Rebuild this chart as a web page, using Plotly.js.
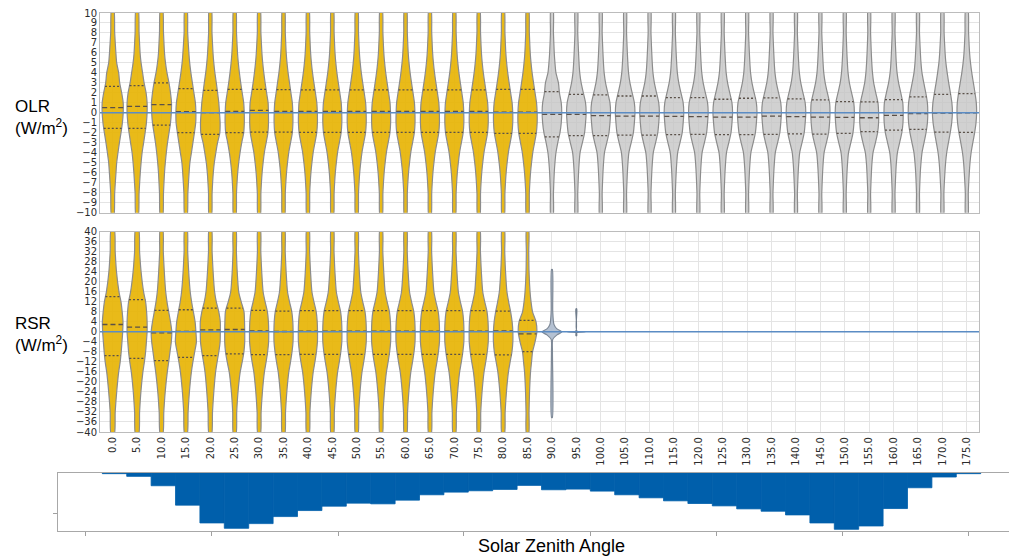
<!DOCTYPE html>
<html><head><meta charset="utf-8">
<script src="https://cdn.plot.ly/plotly-3.0.1.min.js"></script>
<style>html,body{margin:0;padding:0;background:#fff;}#chart{width:1009px;height:558px;}</style>
</head><body><div id="chart"></div>
<script>
// ---------------- data ----------------
const ANGLES = [0,5,10,15,20,25,30,35,40,45,50,55,60,65,70,75,80,85,90,95,100,105,110,115,120,125,130,135,140,145,150,155,160,165,170,175];
const ANGLE_LABELS = ["0.0","5.0","10.0","15.0","20.0","25.0","30.0","35.0","40.0","45.0","50.0","55.0","60.0","65.0","70.0","75.0","80.0","85.0","90.0","95.0","100.0","105.0","110.0","115.0","120.0","125.0","130.0","135.0","140.0","145.0","150.0","155.0","160.0","165.0","170.0","175.0"];
const DAY_LIMIT = 85; // violins up to this angle are drawn in yellow

// OLR violins: half-width (density) at each level
const OLR_LEVELS = [-10.5,-8,-6,-5,-4,-3,-2,-1,0,1,2,3,4,5,6,8,10.5];
const OLR_WIDTHS = [
 [1,2,3.3,4,5.3,6.7,8.3,9.7,10.5,10.5,9,7,6,4,3.2,2,1],
 [1,2,3.2,4,5,6.5,8,9.3,10,10,9,7,5.5,4,3,2,1],
 [1,2,3,3.8,4.8,6,7.5,9,9.8,10,9,7.5,5.5,4,3,2,1],
 [1,2,3.2,4,5.5,7,8.5,9.8,10,9.5,8,6.5,5,3.8,3,1.8,1],
 [1,1.8,3,4,5.5,7.2,9.5,9.8,9.2,8.5,7.3,6,4.6,3.5,2.7,1.7,1],
 [1,1.8,3,4,5.3,7,9,9.6,9.5,9,7.5,6,4.7,3.6,2.8,1.8,1],
 [1,1.8,3,4,5.2,7,8.8,9.4,9.3,9,7.5,6,4.7,3.6,2.8,1.8,1],
 [1,1.8,3,4,5.2,7,8.8,9.4,9.3,8.8,7.4,6,4.6,3.5,2.7,1.8,1],
 [1,1.8,3,4,5.2,7,8.8,9.5,9.4,8.9,7.5,6,4.6,3.5,2.7,1.8,1],
 [1,1.8,3,4,5.2,7,8.8,9.5,9.4,8.9,7.5,6,4.6,3.5,2.7,1.8,1],
 [1,1.8,3,4,5.2,7,8.8,9.5,9.4,8.9,7.5,6,4.6,3.5,2.7,1.8,1],
 [1,1.8,3,4,5.2,7,8.8,9.5,9.4,8.9,7.5,6,4.6,3.5,2.7,1.8,1],
 [1,1.8,3,4,5.2,7,8.8,9.5,9.4,8.9,7.5,6,4.6,3.5,2.7,1.8,1],
 [1,1.8,3,4,5.2,7,8.8,9.5,9.4,8.9,7.5,6,4.6,3.5,2.7,1.8,1],
 [1,1.8,3,4,5.2,7,8.8,9.5,9.4,8.9,7.5,6,4.6,3.5,2.7,1.8,1],
 [1,1.8,3,4,5.2,7,8.8,9.5,9.4,8.9,7.5,6,4.6,3.5,2.7,1.8,1],
 [1,1.8,3,4,5.2,7,8.8,9.6,9.6,9,7.5,6,4.6,3.5,2.7,1.8,1],
 [1,1.8,3,4,5.2,7,8.8,9.6,9.6,9,7.5,6,4.6,3.5,2.7,1.8,1],
 [1,1.5,2.3,3,4,5.8,8,9.3,9.8,9.3,7.5,6.5,4,3,2.3,1.5,1],
 [1,1.4,2.2,2.8,3.7,6,8.2,9.2,9.8,9.2,7,4.8,3.4,2.7,2.2,1.4,1],
 [1,1.4,2.2,2.8,3.7,6,8.2,9.2,9.8,9.2,7,4.8,3.4,2.7,2.2,1.4,1],
 [1,1.4,2.2,2.8,3.7,6,8.2,9.2,9.8,9.2,7,4.8,3.4,2.7,2.2,1.4,1],
 [1,1.4,2.2,2.8,3.7,6,8.2,9.2,9.8,9.2,7,4.8,3.4,2.7,2.2,1.4,1],
 [1,1.4,2.2,2.8,3.7,6,8.2,9.2,9.8,9.2,7,4.8,3.4,2.7,2.2,1.4,1],
 [1,1.4,2.2,2.8,3.7,6,8.2,9.2,9.8,9.2,7,4.8,3.4,2.7,2.2,1.4,1],
 [1,1.4,2.2,2.8,3.7,6,8.2,9.2,9.8,9.2,7,4.8,3.4,2.7,2.2,1.4,1],
 [1,1.4,2.2,2.8,3.7,6,8.2,9.2,9.8,9.2,7,4.8,3.4,2.7,2.2,1.4,1],
 [1,1.4,2.2,2.8,3.7,6,8.2,9.2,9.8,9.2,7,4.8,3.4,2.7,2.2,1.4,1],
 [1,1.4,2.2,2.8,3.7,6,8.2,9.2,9.8,9.2,7,4.8,3.4,2.7,2.2,1.4,1],
 [1,1.4,2.2,2.8,3.7,6,8.2,9.2,9.6,9.2,7,4.8,3.4,2.7,2.2,1.4,1],
 [1,1.4,2.2,2.8,3.7,6,8.2,9.2,9.6,9,6.8,4.6,3.3,2.6,2.1,1.4,1],
 [1,1.4,2.2,2.8,3.8,6.2,8.4,9.4,9.4,8.8,6.6,4.5,3.3,2.6,2.1,1.4,1],
 [1,1.4,2.2,2.8,3.8,6,8.2,9.4,9.6,9.2,7.2,5,3.5,2.7,2.2,1.4,1],
 [1,1.5,2.3,3,4,6,8,9.4,9.8,9.4,7.8,5.8,4,3,2.4,1.5,1],
 [1,1.5,2.5,3.2,4.3,6,7.8,9.3,10,9.5,8,6.3,4.8,3.5,2.7,1.7,1],
 [1,1.5,2.5,3.2,4.3,6,7.8,9.2,9.8,9.5,8.2,6.6,5,3.7,2.8,1.8,1]
];
const OLR_Q1  = [-1.56,-1.56,-1.22,-1.99,-2.16,-1.99,-1.93,-1.93,-1.95,-1.95,-1.95,-1.95,-1.95,-1.95,-1.95,-1.95,-2.06,-2.06,-2.4,-2.29,-2.29,-2.23,-2.23,-2.19,-2.16,-2.19,-2.19,-2.15,-2.1,-2.13,-2.06,-1.89,-1.73,-1.66,-1.93,-1.96];
const OLR_MED = [0.52,0.65,0.82,0.12,0.02,0.15,0.25,0.15,0.15,0.15,0.15,0.15,0.15,0.15,0.15,0.15,0.08,0.08,-0.15,-0.15,-0.28,-0.32,-0.32,-0.35,-0.38,-0.42,-0.42,-0.32,-0.38,-0.42,-0.45,-0.49,-0.25,-0.08,-0.02,0];
const OLR_Q3  = [2.66,2.73,3.0,2.43,2.26,2.36,2.36,2.33,2.3,2.3,2.3,2.3,2.3,2.3,2.3,2.3,2.36,2.36,2.13,1.86,1.8,1.69,1.69,1.52,1.52,1.36,1.46,1.5,1.39,1.29,1.12,1.09,1.32,1.59,1.86,1.93];

// RSR violins (0.0 .. 85.0)
const RSR_LEVELS = [-41,-32,-24,-16,-12,-8,-4,0,4,8,12,16,24,32,41];
const RSR_WIDTHS = [
 [1.5,2.5,4,6,7.5,8.5,9.3,10,10.3,9.5,8.3,6.3,3.8,2.5,1.5],
 [1.5,2.5,3.8,5.8,7.3,8.5,9.3,10,10,9.5,8.5,6.5,4,2.5,1.5],
 [1.2,2.3,3.7,5.8,7.2,8.5,9.8,10.3,9,7.2,5.5,4.2,2.8,1.8,1.2],
 [1.2,2.2,3.5,5.5,7,8.8,10.5,10,9.2,7.5,5.7,4.3,2.8,1.8,1.2],
 [1.2,2.2,3.5,5.3,6.8,8.5,9.8,10,10,8.5,6,4.3,2.8,1.8,1.2],
 [1.2,2,3.3,5.5,7.5,9.2,10,10,9.8,9.3,6.5,4,2.5,1.7,1.2],
 [1.2,2,3.3,5.3,7,8.5,9.5,9.6,9.3,8.3,6,4,2.6,1.7,1.2],
 [1.2,2,3.3,5.3,7,8.5,9.5,9.6,9.3,8.3,6,4,2.6,1.7,1.2],
 [1.2,2,3.3,5.3,7,8.5,9.5,9.6,9.3,8.3,6,4,2.6,1.7,1.2],
 [1.2,2,3.3,5.3,7,8.5,9.5,9.6,9.3,8.3,6,4,2.6,1.7,1.2],
 [1.2,2,3.3,5.3,7,8.5,9.5,9.6,9.3,8.3,6,4,2.6,1.7,1.2],
 [1.2,2,3.3,5.3,7,8.5,9.5,9.6,9.3,8.3,6,4,2.6,1.7,1.2],
 [1.2,2,3.3,5.3,7,8.5,9.5,9.6,9.3,8.3,6,4,2.6,1.7,1.2],
 [1.2,2,3.3,5.3,7,8.5,9.5,9.6,9.3,8.3,6,4,2.6,1.7,1.2],
 [1.2,2,3.3,5.3,7,8.5,9.5,9.6,9.3,8.3,6,4,2.6,1.7,1.2],
 [1.2,2,3.3,5.3,7,8.5,9.5,9.6,9.3,8.3,6,4,2.6,1.7,1.2],
 [1.2,2,3.3,5.3,7,8.8,9.7,9.7,9,7.5,5.5,3.8,2.4,1.6,1.2],
 [1,1.5,2,3,4,5,7.5,9.3,8.5,5,3.5,2.5,1.5,1.2,1]
];
const RSR_Q1  = [-9.5,-10.57,-11.5,-10.2,-9.5,-8.8,-9.1,-9.1,-9,-9,-9,-9,-9,-9,-9,-9,-9.2,-7.9];
const RSR_MED = [2.94,1.87,-0.4,0.2,0.8,0.94,0.4,0.13,0.3,0.3,0.3,0.3,0.3,0.3,0.3,0.3,0.4,-0.8];
const RSR_Q3  = [14.05,12.84,8.56,8.83,9.5,9.5,8.56,8.3,8.5,8.5,8.5,8.5,8.5,8.5,8.5,8.5,8.3,4.55];
// RSR at 90.0 and 95.0 (almost degenerate)
const RSR90_LEVELS = [-34.2,-8,-3,-1.2,0,1.2,3,8,24.9];
const RSR90_WIDTHS = [0.4,0.5,0.8,5,10,5,2,0.8,0.4];
const RSR95_LEVELS = [-1.5,-0.3,0,0.3,9.2];
const RSR95_WIDTHS = [0.4,0.5,9,0.5,0.4];

// Lower histogram (depth of each column, hanging from top)
const HIST = [2,10,38,96,149,165,151,130,112,99,90,92,81,65,57,53,49,37,50,48,54,65,74,83,91,98,107,114,125,149,168,158,106,44,12,2];
const HIST_TICKS = [-6,19.9,45.8,71.6,97.5,123.3,149.2,175.0];
const REF_LINE = 0;

const OLR_TICKS = [10,9,8,7,6,5,4,3,2,1,0,-1,-2,-3,-4,-5,-6,-7,-8,-9,-10];
const RSR_TICKS = [40,36,32,28,24,20,16,12,8,4,0,-4,-8,-12,-16,-20,-24,-28,-32,-36,-40];

// ---------------- drawing ----------------
const W = 0.205; // density -> x units
const YELLOW = 'rgba(231,178,0,0.9)';
const GREY = 'rgba(196,196,196,0.78)';
const OUTLINE = '#8c8c8c';
const INNER = '#5a5048';
const BAR = '#005fab';

function interp(levels, widths, y){
  for (let i=0;i<levels.length-1;i++){
    if (y>=levels[i] && y<=levels[i+1]){
      const t=(y-levels[i])/(levels[i+1]-levels[i]);
      return widths[i]+t*(widths[i+1]-widths[i]);
    }
  }
  return 0;
}
function violin(cx, levels, widths, fill, line, xa, ya){
  const xs=[], ys=[];
  for (let i=0;i<levels.length;i++){ xs.push(cx+widths[i]*W); ys.push(levels[i]); }
  for (let i=levels.length-1;i>=0;i--){ xs.push(cx-widths[i]*W); ys.push(levels[i]); }
  xs.push(xs[0]); ys.push(ys[0]);
  return {type:'scatter', mode:'lines', x:xs, y:ys, fill:'toself', fillcolor:fill,
    line:{color:line, width:1.2, shape:'spline', smoothing:0.7}, xaxis:xa, yaxis:ya,
    hoverinfo:'skip', showlegend:false};
}
function innerLines(cxs, levelsArr, widthsArr, qs, dash, xa, ya){
  const xs=[], ys=[];
  cxs.forEach((cx,i)=>{
    const q=qs[i]; if (q===null || q===undefined) return;
    const w=interp(levelsArr, widthsArr[i], q)*W;
    xs.push(cx-w, cx+w, null); ys.push(q, q, null);
  });
  return {type:'scatter', mode:'lines', x:xs, y:ys, line:{color:INNER, width:1.3, dash:dash},
    xaxis:xa, yaxis:ya, hoverinfo:'skip', showlegend:false};
}

const traces=[];
ANGLES.forEach((a,i)=>{
  const day = a<=DAY_LIMIT;
  traces.push(violin(a, OLR_LEVELS, OLR_WIDTHS[i], day?YELLOW:GREY, OUTLINE, 'x', 'y'));
});
traces.push(innerLines(ANGLES, OLR_LEVELS, OLR_WIDTHS, OLR_Q1, '2px,2px', 'x','y'));
traces.push(innerLines(ANGLES, OLR_LEVELS, OLR_WIDTHS, OLR_Q3, '2px,2px', 'x','y'));
traces.push(innerLines(ANGLES, OLR_LEVELS, OLR_WIDTHS, OLR_MED, '5px,3px', 'x','y'));

const rsrAngles = ANGLES.slice(0, RSR_WIDTHS.length);
rsrAngles.forEach((a,i)=>{
  traces.push(violin(a, RSR_LEVELS, RSR_WIDTHS[i], YELLOW, OUTLINE, 'x2', 'y2'));
});
traces.push(violin(ANGLES[18], RSR90_LEVELS, RSR90_WIDTHS, 'rgba(176,190,208,0.95)', '#7d8896', 'x2', 'y2'));
traces.push(violin(ANGLES[19], RSR95_LEVELS, RSR95_WIDTHS, 'rgba(120,140,165,0.95)', '#6f7b8a', 'x2', 'y2'));
traces.push(innerLines(rsrAngles, RSR_LEVELS, RSR_WIDTHS, RSR_Q1, '2px,2px', 'x2','y2'));
traces.push(innerLines(rsrAngles, RSR_LEVELS, RSR_WIDTHS, RSR_Q3, '2px,2px', 'x2','y2'));
traces.push(innerLines(rsrAngles, RSR_LEVELS, RSR_WIDTHS, RSR_MED, '5px,3px', 'x2','y2'));

traces.push({type:'bar', x:ANGLES, y:HIST, width:5, marker:{color:BAR, line:{width:0.8, color:BAR}},
  xaxis:'x3', yaxis:'y3', hoverinfo:'skip', showlegend:false});

const H=558, Wd=1009;
const px = v=>v/Wd, py = v=>1-v/H;
const tickFont = {family:'DejaVu Sans, sans-serif', size:10, color:'#2b2b2b'};
const grid = '#e4e4e4', border='#bcbcbc';

const layout = {
  width:Wd, height:H, margin:{l:0,r:0,t:0,b:0}, paper_bgcolor:'#fff', plot_bgcolor:'#fff',
  showlegend:false, bargap:0,
  xaxis:{domain:[px(100),px(979)], range:[-2.6,177.5], anchor:'y', tickvals:ANGLES, showticklabels:false,
    ticks:'', showgrid:true, gridcolor:grid, showline:true, mirror:true, linecolor:border, zeroline:false},
  yaxis:{domain:[py(212.7),py(13)], range:[-10,10], anchor:'x', tickvals:OLR_TICKS, ticks:'', tickfont:tickFont,
    showgrid:true, gridcolor:grid, showline:true, mirror:true, linecolor:border, zeroline:false},
  xaxis2:{domain:[px(100),px(979)], range:[-2.6,177.5], anchor:'y2', tickvals:ANGLES, ticktext:ANGLE_LABELS,
    tickangle:-90, tickfont:{family:'DejaVu Sans, sans-serif', size:10, color:'#2b2b2b'}, ticks:'',
    showgrid:true, gridcolor:grid, showline:true, mirror:true, linecolor:border, zeroline:false},
  yaxis2:{domain:[py(432),py(231.7)], range:[-40,40], anchor:'x2', tickvals:RSR_TICKS, ticks:'', tickfont:tickFont,
    showgrid:true, gridcolor:grid, showline:true, mirror:true, linecolor:border, zeroline:false},
  xaxis3:{domain:[px(58),1], range:[-11.58,183.3], anchor:'y3', tickvals:HIST_TICKS, showticklabels:false,
    ticks:'outside', ticklen:4, tickcolor:'#a0a0a0', showgrid:false, showline:true, mirror:true, linecolor:'#a8a8a8', zeroline:false},
  yaxis3:{domain:[py(531),py(473)], range:[173,0], anchor:'x3', tickvals:[120], showticklabels:false, ticks:'outside', ticklen:4,
    tickcolor:'#a0a0a0', showgrid:false, showline:true, mirror:false, linecolor:'#a8a8a8', zeroline:false},
  shapes:[
    {type:'line', xref:'x domain', x0:0, x1:1, yref:'y', y0:REF_LINE, y1:REF_LINE, line:{color:'#5b8cc4', width:1.5}, layer:'above'},
    {type:'line', xref:'x2 domain', x0:0, x1:1, yref:'y2', y0:REF_LINE, y1:REF_LINE, line:{color:'#5b8cc4', width:1.5}, layer:'above'}
  ],
  annotations:[
    {xref:'paper', yref:'paper', x:px(41), y:py(117), text:'OLR<br>(W/m<sup>2</sup>)', showarrow:false,
      font:{family:'Liberation Sans, Arial, sans-serif', size:17, color:'#000'}, align:'left', xanchor:'center', yanchor:'middle'},
    {xref:'paper', yref:'paper', x:px(41), y:py(334), text:'RSR<br>(W/m<sup>2</sup>)', showarrow:false,
      font:{family:'Liberation Sans, Arial, sans-serif', size:17, color:'#000'}, align:'left', xanchor:'center', yanchor:'middle'},
    {xref:'paper', yref:'paper', x:px(551), y:py(546), text:'Solar Zenith Angle', showarrow:false,
      font:{family:'Liberation Sans, Arial, sans-serif', size:18, color:'#000'}, xanchor:'center', yanchor:'middle'}
  ]
};
Plotly.newPlot('chart', traces, layout, {staticPlot:true, displayModeBar:false});
</script>
</body></html>
